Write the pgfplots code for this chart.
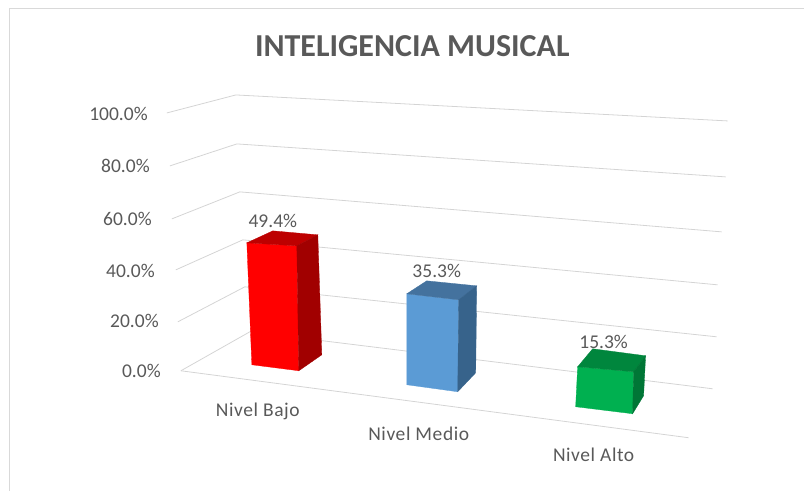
\documentclass[border=0pt]{standalone}
\usepackage{fontspec}
\setmainfont{Carlito}
\usepackage{pgfplots}
\pgfplotsset{compat=1.18}
\definecolor{txt}{HTML}{595959}
\definecolor{gridc}{HTML}{D4D4D4}
\definecolor{frame}{HTML}{D9D9D9}
\tikzset{
  grid line/.style={draw=gridc, line width=0.8pt, sharp plot, mark=none},
  lab/.style={text=txt, font=\fontsize{19.5}{19.5}\selectfont, inner sep=0pt},
  cat/.style={text=txt, font=\fontsize{19.5}{19.5}\selectfont\addfontfeature{LetterSpace=3}, inner sep=0pt},
}
\begin{document}
\begin{tikzpicture}
\begin{axis}[
  hide axis, scale only axis, width=804pt, height=491pt,
  xmin=0, xmax=804, ymin=0, ymax=491, y dir=reverse,
  clip=false,
  every axis plot/.append style={forget plot},
]
% page extent and chart frame
\addplot[draw=white, line width=0pt, mark=none] coordinates {(0,0) (804,0) (804,491) (0,491) (0,0)};
\addplot[draw=frame, line width=1pt, mark=none] coordinates {(9.5,491) (9.5,8.5) (804,8.5)};
% gridlines: 100, 80, 60, 40, 20, 0 %
\addplot[grid line] coordinates {(167,113) (236,95) (728,121)};
\addplot[grid line] coordinates {(170,166) (237,144) (726,177)};
\addplot[grid line] coordinates {(172,219) (240,192) (722,232)};
\addplot[grid line] coordinates {(176,270) (243,240) (718,285)};
\addplot[grid line] coordinates {(178,322) (245,287) (717,337)};
\addplot[grid line] coordinates {(181,371) (250,332) (713,389)};
\addplot[grid line] coordinates {(181,371) (689,438)};
% Nivel Bajo 49.4
\addplot[fill=red, draw=red, line width=0.3pt] coordinates {(247,243) (297,246) (299,371) (252,365)} --cycle;
\addplot[fill=red!74!black, draw=red!74!black, line width=0.3pt] coordinates {(247,243) (273,231) (318,235) (297,246)} --cycle;
\addplot[fill=red!63!black, draw=red!63!black, line width=0.3pt] coordinates {(297,246) (318,235) (322,355) (299,371)} --cycle;
% Nivel Medio 35.3
\definecolor{bf}{RGB}{91,155,213}\definecolor{bt}{RGB}{68,114,158}\definecolor{bs}{RGB}{55,99,139}
\addplot[fill=bf, draw=bf, line width=0.3pt] coordinates {(407,294) (459,300) (458,392) (407,385)} --cycle;
\addplot[fill=bt, draw=bt, line width=0.3pt] coordinates {(407,294) (427,281) (477,286) (459,300)} --cycle;
\addplot[fill=bs, draw=bs, line width=0.3pt] coordinates {(459,300) (477,286) (476,373) (458,392)} --cycle;
% Nivel Alto 15.3
\definecolor{gf}{RGB}{0,176,80}\definecolor{gt}{RGB}{0,134,61}\definecolor{gs}{RGB}{0,118,54}
\addplot[fill=gf, draw=gf, line width=0.3pt] coordinates {(578,367) (634,372) (633,414) (576,407)} --cycle;
\addplot[fill=gt, draw=gt, line width=0.3pt] coordinates {(578,367) (593,349) (646,356) (634,372)} --cycle;
\addplot[fill=gs, draw=gs, line width=0.3pt] coordinates {(634,372) (646,356) (644,396) (633,414)} --cycle;
% text
\node[text=txt, inner sep=0pt, font=\fontsize{32}{32}\selectfont\bfseries] at (axis cs:412.5,46) {INTELIGENCIA MUSICAL};
\node[lab, anchor=east] at (axis cs:148,114) {100.0\%};
\node[lab, anchor=east] at (axis cs:150,166) {80.0\%};
\node[lab, anchor=east] at (axis cs:152,219) {60.0\%};
\node[lab, anchor=east] at (axis cs:155,271) {40.0\%};
\node[lab, anchor=east] at (axis cs:159,321) {20.0\%};
\node[lab, anchor=east] at (axis cs:161,371) {0.0\%};
\node[lab] at (axis cs:273,221) {49.4\%};
\node[lab] at (axis cs:437,271) {35.3\%};
\node[lab] at (axis cs:604,342) {15.3\%};
\node[cat] at (axis cs:258,412) {Nivel Bajo};
\node[cat] at (axis cs:419,434) {Nivel Medio};
\node[cat] at (axis cs:594,455) {Nivel Alto};
\end{axis}
\end{tikzpicture}
\end{document}
